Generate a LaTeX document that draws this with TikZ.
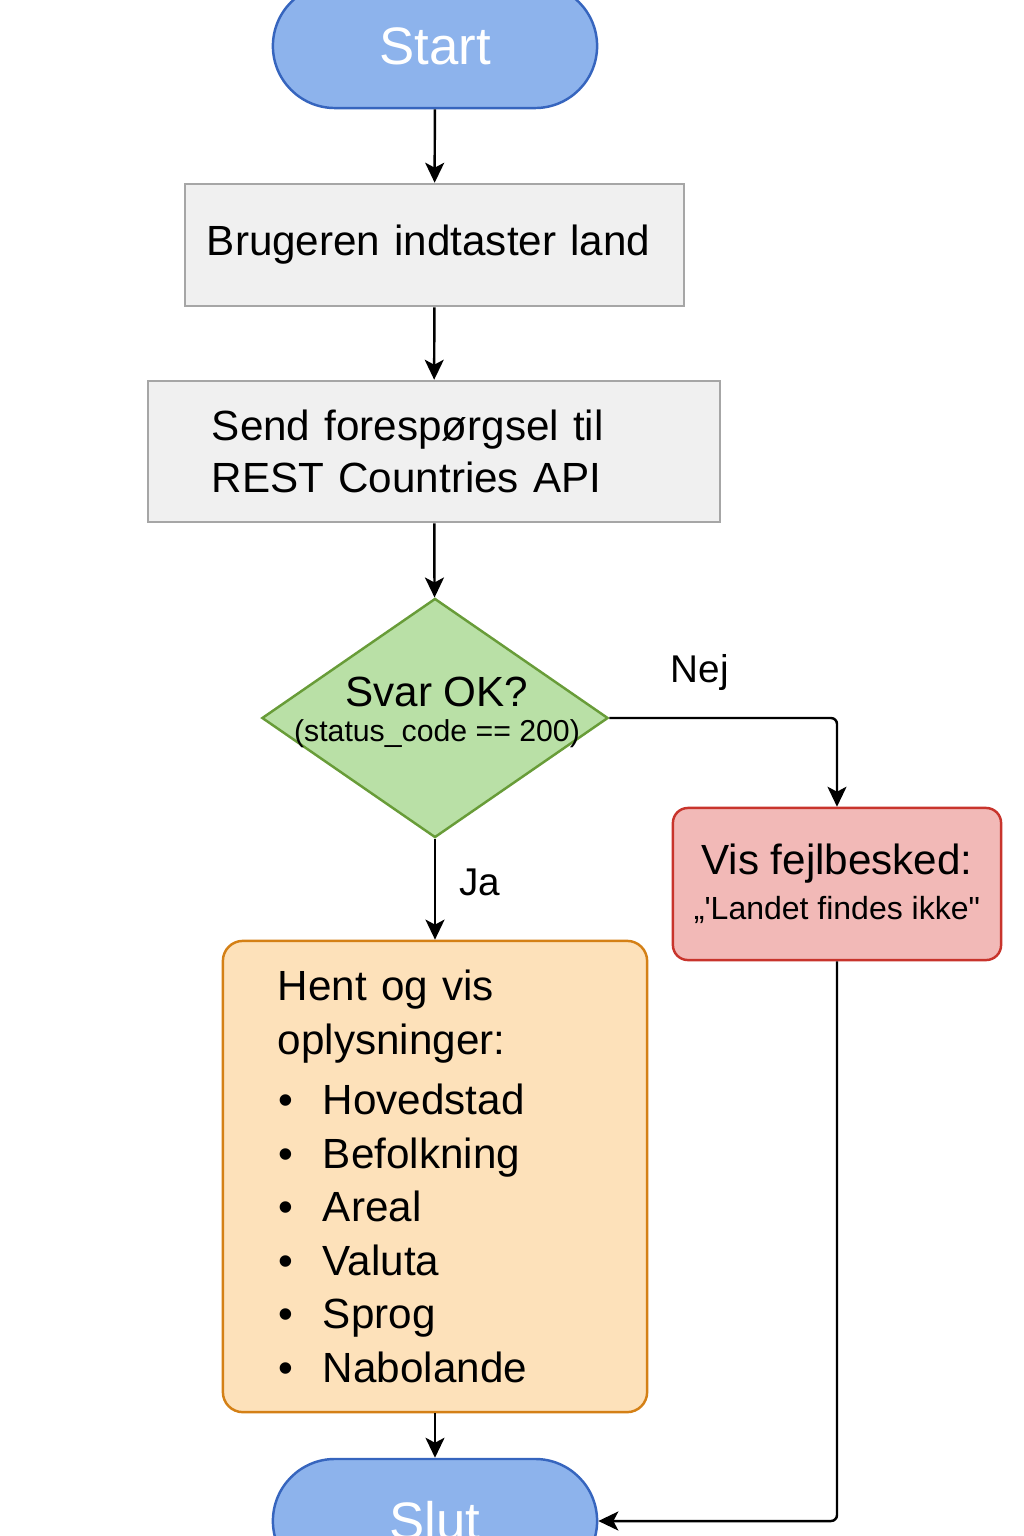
\documentclass[tikz,border=0pt]{standalone}
\usepackage{fontspec}
\setmainfont{Liberation Sans}
\usetikzlibrary{shapes.geometric,arrows.meta}

\definecolor{blaafyld}{RGB}{141,179,236}
\definecolor{blaakant}{RGB}{54,101,190}
\definecolor{graafyld}{RGB}{240,240,240}
\definecolor{graakant}{RGB}{166,166,166}
\definecolor{groenfyld}{RGB}{185,224,166}
\definecolor{groenkant}{RGB}{104,156,56}
\definecolor{roedfyld}{RGB}{242,185,183}
\definecolor{roedkant}{RGB}{200,52,44}
\definecolor{orangefyld}{RGB}{253,225,186}
\definecolor{orangekant}{RGB}{212,128,22}

\begin{document}
\begin{tikzpicture}[x=0.01cm, y=-0.01cm,
	terminal/.style={draw=blaakant, fill=blaafyld, line width=0.7pt,
		rounded corners=0.62cm, minimum width=3.24cm, minimum height=1.24cm,
		text=white, font=\fontsize{15}{18}\selectfont},
	proces/.style={draw=graakant, fill=graafyld, line width=0.7pt,
		align=left, font=\fontsize{12}{14.8}\selectfont},
	beslutning/.style={diamond, draw=groenkant, fill=groenfyld, line width=0.7pt,
		inner sep=0pt, minimum width=3.46cm, minimum height=2.39cm},
	fejl/.style={draw=roedkant, fill=roedfyld, line width=0.7pt,
		rounded corners=0.15cm, minimum width=3.28cm, minimum height=1.52cm,
		align=center},
	resultat/.style={draw=orangekant, fill=orangefyld, line width=0.7pt,
		rounded corners=0.2cm, align=left, text width=3.14cm, inner xsep=0.55cm,
		minimum height=4.71cm, font=\fontsize{12}{15.2}\selectfont},
	etiket/.style={font=\fontsize{11}{13}\selectfont},
	pil/.style={line width=0.7pt, -{Stealth[length=0.2cm, width=0.19cm, inset=0.05cm]}}]
	% Rammen
	\useasboundingbox (0,0) rectangle (1024,1536);
	\clip (0,0) rectangle (1024,1536);
	% Start
	\node[terminal] (start) at (435,46) {Start};
	% Procesbokse
	\node[proces, text width=4.55cm, inner xsep=0.22cm, minimum height=1.22cm]
		(indtast) at (434.5,245) {Brugeren indtaster land};
	\node[proces, text width=4.44cm, inner xsep=0.64cm, minimum height=1.41cm]
		(send) at (434,451.5) {Send forespørgsel til\\REST Countries API};
	% Beslutning
	\node[beslutning] (svar) at (435,718) {};
	\node[align=center, inner sep=0pt] (svartekst) at (437,712)
		{\fontsize{12}{14}\selectfont Svar OK?\\[-2pt]
		\fontsize{8.6}{10}\selectfont (status\_code == 200)};
	% Fejl
	\node[fejl] (fejl) at (837,884)
		{\fontsize{12}{14}\selectfont Vis fejlbesked:\\[0.8pt]
		\fontsize{9.1}{11}\selectfont „\textquotesingle Landet findes ikke\textquotedbl};
	% Oplysninger
	\node[resultat] (hent) at (435,1176.5)
		{Hent og vis\\oplysninger:\\[2pt]
		\makebox[0.45cm][l]{\hspace{0.01cm}\textbullet}Hovedstad\\
		\makebox[0.45cm][l]{\hspace{0.01cm}\textbullet}Befolkning\\
		\makebox[0.45cm][l]{\hspace{0.01cm}\textbullet}Areal\\
		\makebox[0.45cm][l]{\hspace{0.01cm}\textbullet}Valuta\\
		\makebox[0.45cm][l]{\hspace{0.01cm}\textbullet}Sprog\\
		\makebox[0.45cm][l]{\hspace{0.01cm}\textbullet}Nabolande};
	% Slut
	\node[terminal] (slut) at (435,1521) {Slut};
	% Etiketter
	\node[etiket] (nej) at (700,672) {Nej};
	\node[etiket] (ja) at (480,882) {Ja};
	% Pile
	\draw[pil] (start) -- (indtast);
	\draw[pil] (indtast) -- (send);
	\draw[pil] (send) -- (svar);
	\draw[pil] (svar) -- (hent);
	\draw[pil] (hent) -- (slut);
	\draw[pil, rounded corners=0.06cm] (svar.east) -| (fejl.north);
	\draw[pil, rounded corners=0.06cm] (fejl.south) |- (slut.east);
\end{tikzpicture}
\end{document}
